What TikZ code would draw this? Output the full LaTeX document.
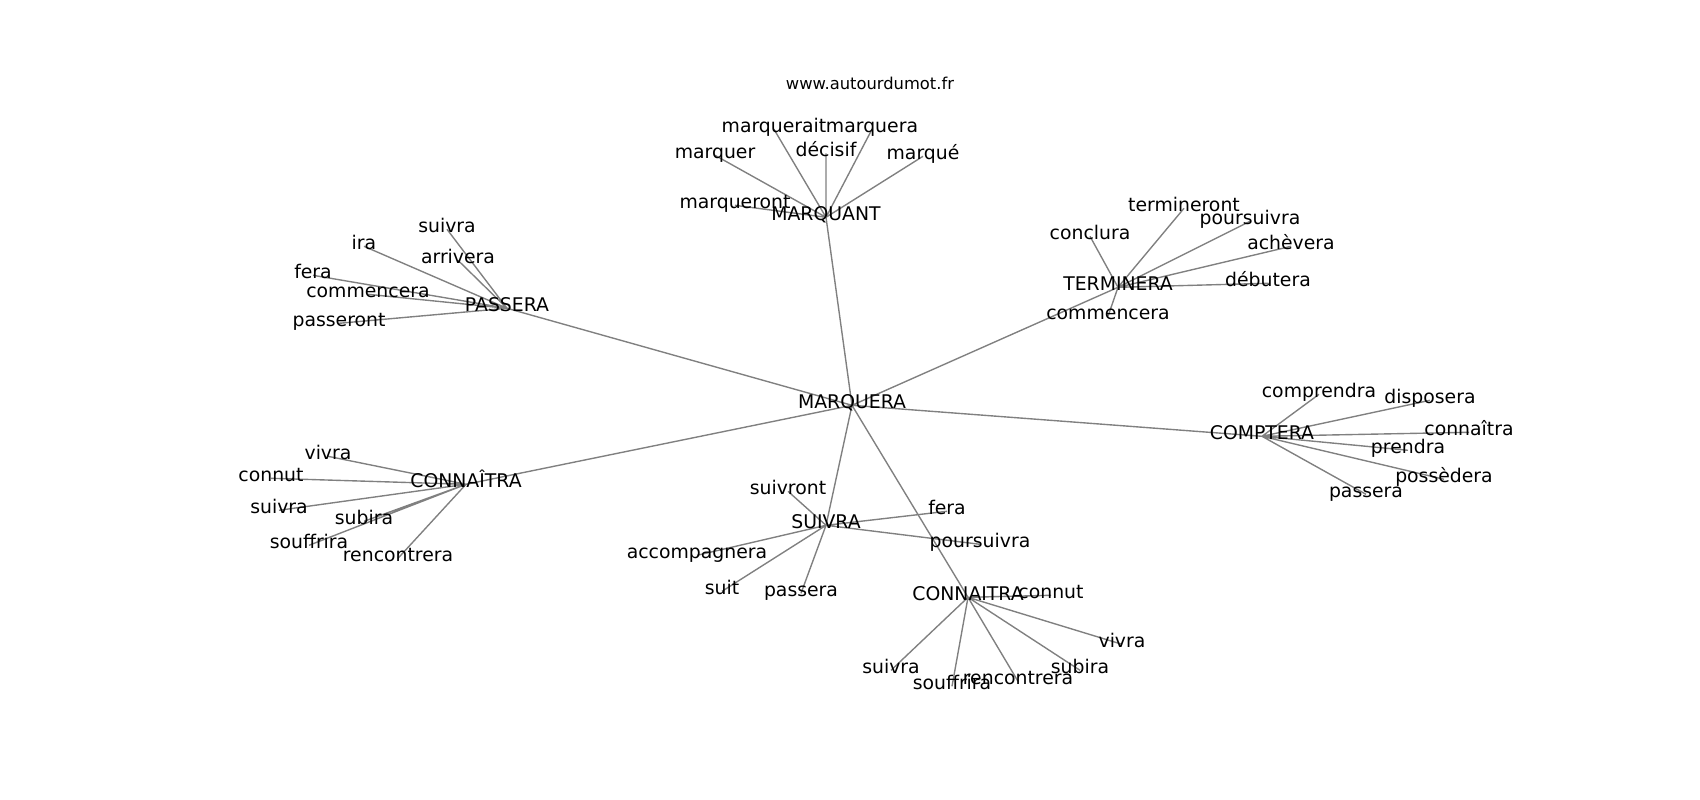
\documentclass[tikz,border=0pt]{standalone}
\usepackage{fontspec}
\setmainfont{DejaVu Sans}
\pgfdeclarelayer{edges}
\pgfsetlayers{edges,main}
\tikzset{
  word/.style={inner sep=0pt, text height=0.76em, text depth=0.23em, yshift=-0.033in, font=\fontsize{13.6pt}{16pt}\selectfont},
  link/.style={draw=black!50, line width=1pt}
}
\begin{document}
\begin{tikzpicture}[x=0.01in, y=-0.01in]
        \useasboundingbox (0,0) rectangle (1700,800);
        \node[inner sep=0pt, font=\fontsize{11.8pt}{14pt}\selectfont] (site) at (870,83) {www.autourdumot.fr};
        % hub
        \node[word] (marquera) at (852,402) {MARQUERA};
        % MARQUANT
        \node[word] (marquant) at (826,214) {MARQUANT};
        \node[word] (ma-marquerait) at (774,126) {marquerait};
        \node[word] (ma-marquera) at (872,126) {marquera};
        \node[word] (ma-decisif) at (826,150) {décisif};
        \node[word] (ma-marquer) at (715,152) {marquer};
        \node[word] (ma-marque) at (923,153) {marqué};
        \node[word] (ma-marqueront) at (735,202) {marqueront};
        % PASSERA
        \node[word] (passera) at (507,305) {PASSERA};
        \node[word] (pa-suivra) at (447,226) {suivra};
        \node[word] (pa-ira) at (364,243) {ira};
        \node[word] (pa-arrivera) at (458,257) {arrivera};
        \node[word] (pa-fera) at (313,272) {fera};
        \node[word] (pa-commencera) at (368,291) {commencera};
        \node[word] (pa-passeront) at (339,320) {passeront};
        % TERMINERA
        \node[word] (terminera) at (1118,284) {TERMINERA};
        \node[word] (te-termineront) at (1184,205) {termineront};
        \node[word] (te-poursuivra) at (1250,218) {poursuivra};
        \node[word] (te-conclura) at (1090,233) {conclura};
        \node[word] (te-achevera) at (1291,243) {achèvera};
        \node[word] (te-debutera) at (1268,280) {débutera};
        \node[word] (te-commencera) at (1108,313) {commencera};
        % COMPTERA
        \node[word] (comptera) at (1262,433) {COMPTERA};
        \node[word] (co-comprendra) at (1319,391) {comprendra};
        \node[word] (co-disposera) at (1430,397) {disposera};
        \node[word] (co-connaitra) at (1469,429) {connaîtra};
        \node[word] (co-prendra) at (1408,447) {prendra};
        \node[word] (co-possedera) at (1444,476) {possèdera};
        \node[word] (co-passera) at (1366,491) {passera};
        % CONNAÎTRA
        \node[word] (connaitre) at (466,481) {CONNAÎTRA};
        \node[word] (cn-vivra) at (328,453) {vivra};
        \node[word] (cn-connut) at (271,475) {connut};
        \node[word] (cn-suivra) at (279,507) {suivra};
        \node[word] (cn-subira) at (364,518) {subira};
        \node[word] (cn-souffrira) at (309,542) {souffrira};
        \node[word] (cn-rencontrera) at (398,555) {rencontrera};
        % SUIVRA
        \node[word] (suivra) at (826,522) {SUIVRA};
        \node[word] (su-suivront) at (788,488) {suivront};
        \node[word] (su-fera) at (947,508) {fera};
        \node[word] (su-accompagnera) at (697,552) {accompagnera};
        \node[word] (su-poursuivra) at (980,541) {poursuivra};
        \node[word] (su-suit) at (722,588) {suit};
        \node[word] (su-passera) at (801,590) {passera};
        % CONNAITRA
        \node[word] (connaitra) at (968,594) {CONNAITRA};
        \node[word] (ct-connut) at (1051,592) {connut};
        \node[word] (ct-vivra) at (1122,641) {vivra};
        \node[word] (ct-suivra) at (891,667) {suivra};
        \node[word] (ct-souffrira) at (952,683) {souffrira};
        \node[word] (ct-rencontrera) at (1018,678) {rencontrera};
        \node[word] (ct-subira) at (1080,667) {subira};
        \begin{pgfonlayer}{edges}
        \path[link] (marquera.center) -- (marquant.center) (marquera.center) -- (passera.center)
                    (marquera.center) -- (terminera.center) (marquera.center) -- (comptera.center)
                    (marquera.center) -- (connaitre.center) (marquera.center) -- (suivra.center)
                    (marquera.center) -- (connaitra.center);
        \path[link] (marquant.center) -- (ma-marquerait.center) (marquant.center) -- (ma-marquera.center)
                    (marquant.center) -- (ma-decisif.center) (marquant.center) -- (ma-marquer.center)
                    (marquant.center) -- (ma-marque.center) (marquant.center) -- (ma-marqueront.center);
        \path[link] (passera.center) -- (pa-suivra.center) (passera.center) -- (pa-ira.center)
                    (passera.center) -- (pa-arrivera.center) (passera.center) -- (pa-fera.center)
                    (passera.center) -- (pa-commencera.center) (passera.center) -- (pa-passeront.center);
        \path[link] (terminera.center) -- (te-termineront.center) (terminera.center) -- (te-poursuivra.center)
                    (terminera.center) -- (te-conclura.center) (terminera.center) -- (te-achevera.center)
                    (terminera.center) -- (te-debutera.center) (terminera.center) -- (te-commencera.center);
        \path[link] (comptera.center) -- (co-comprendra.center) (comptera.center) -- (co-disposera.center)
                    (comptera.center) -- (co-connaitra.center) (comptera.center) -- (co-prendra.center)
                    (comptera.center) -- (co-possedera.center) (comptera.center) -- (co-passera.center);
        \path[link] (connaitre.center) -- (cn-vivra.center) (connaitre.center) -- (cn-connut.center)
                    (connaitre.center) -- (cn-suivra.center) (connaitre.center) -- (cn-subira.center)
                    (connaitre.center) -- (cn-souffrira.center) (connaitre.center) -- (cn-rencontrera.center);
        \path[link] (suivra.center) -- (su-suivront.center) (suivra.center) -- (su-fera.center)
                    (suivra.center) -- (su-accompagnera.center) (suivra.center) -- (su-poursuivra.center)
                    (suivra.center) -- (su-suit.center) (suivra.center) -- (su-passera.center);
        \path[link] (connaitra.center) -- (ct-connut.center) (connaitra.center) -- (ct-vivra.center)
                    (connaitra.center) -- (ct-suivra.center) (connaitra.center) -- (ct-souffrira.center)
                    (connaitra.center) -- (ct-rencontrera.center) (connaitra.center) -- (ct-subira.center);
        \end{pgfonlayer}
    \end{tikzpicture}
\end{document}
